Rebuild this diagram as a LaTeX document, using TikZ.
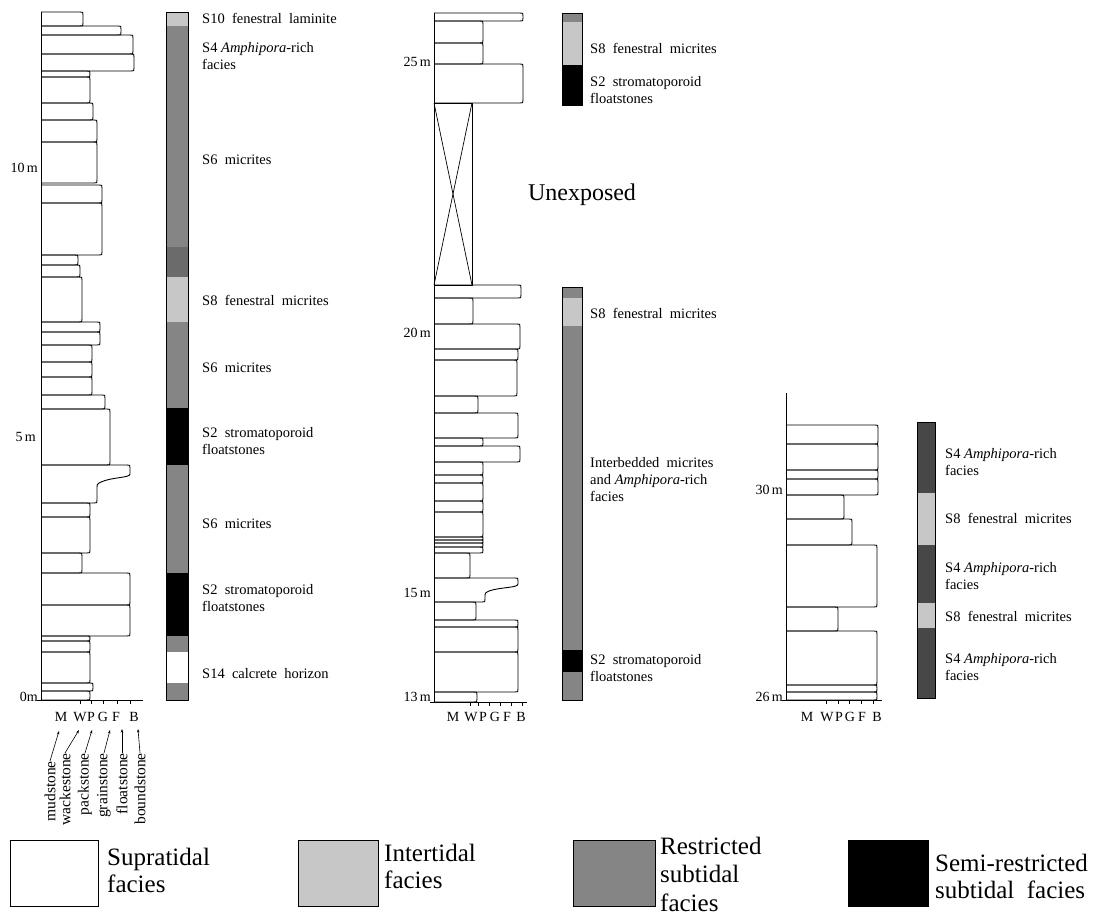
\documentclass[tikz,border=0pt]{standalone}
\usepackage{fontspec}
\setmainfont{Liberation Serif}
\usetikzlibrary{arrows.meta}
\definecolor{interc}{gray}{0.78}
\definecolor{restrc}{gray}{0.52}
\definecolor{restrd}{gray}{0.42}
\definecolor{s4c}{gray}{0.28}
\tikzset{
 bedline/.style={line width=0.9pt, line join=round},
 barbox/.style={draw=black, line width=0.6pt},
 inter/.style={fill=interc},
 restr/.style={fill=restrc},
 restrdark/.style={fill=restrd},
 semi/.style={fill=black},
 supra/.style={fill=white},
 sfour/.style={fill=s4c},
 lab/.style={anchor=west, align=left, inner sep=0pt, font=\fontsize{14.5}{17}\selectfont},
 depth/.style={anchor=east, inner sep=0pt, font=\fontsize{14}{16}\selectfont},
 texlab/.style={anchor=center, inner sep=0pt, font=\fontsize{14}{16}\selectfont},
 rock/.style={anchor=east, rotate=90, inner sep=0pt, font=\fontsize{15.5}{16}\selectfont},
 leg/.style={anchor=west, align=left, inner sep=0pt, font=\fontsize{25}{27}\selectfont},
 leader/.style={line width=0.6pt, -{Stealth[length=3.5pt,width=2.5pt]}},
}
\newcommand\bedshape[4]{%
 \pgfmathsetmacro\bedr{min(3,(#3-#2)/2)}%
 \draw[bedline] (#1,#2) -- ({#4-\bedr},#2) .. controls (#4,#2) .. (#4,{#2+\bedr}) -- (#4,{#3-\bedr}) .. controls (#4,#3) .. ({#4-\bedr},#3) -- (#1,#3);%
}
\begin{document}
\begin{tikzpicture}[x=1pt,y=-1pt]
\useasboundingbox (0,0) rectangle (1098,915);
\fill[white] (0,0) rectangle (1098,915);

% ===== Column 1 =====
\foreach \t/\b/\r in {12/26/83, 26/35/121, 35/54/133, 54/71/134, 71/77/90, 77/103/90,
  103/120/93, 120/142/97, 142/183/97, 185/203/102, 203/255/102, 255/265/78,
  265/277/80, 277/322/82, 322/332/100, 332/345/100, 345/362/92, 362/377/92, 377/395/92,
  395/409/105, 409/465/110, 503/517/90, 517/553/90, 553/573/82, 573/605/130, 605/636/130,
  636/641/90, 641/652/90, 652/683/90, 683/691/93, 691/700/90}
  {\bedshape{41}{\t}{\b}{\r}}
\draw[bedline] (41,465) -- (127,465) .. controls (130,465) .. (130,468) -- (130,474)
  .. controls (130,478) and (112,477) .. (101,482) .. controls (97,484) .. (97,489)
  -- (97,500) .. controls (97,503) .. (94,503) -- (41,503);
\draw[bedline] (41,12) -- (41,700);
\draw[bedline] (37,700) -- (143,700);
\foreach \x in {80,91,103,117,130} \draw[bedline] (\x,700) -- (\x,704);

\node[depth] (d10) at (38,168) {10\,m};
\node[depth] (d5) at (36,437) {5\,m};
\node[depth] (d0) at (38,697) {0m};

\foreach \n/\x/\s in {a/61/M, b/80/W, c/91/P, d/103/G, e/116/F, f/134/B}
  \node[texlab] (t1\n) at (\x,717) {\s};

\node[rock] (rk1) at (50,761) {mudstone};
\node[rock] (rk2) at (65,753) {wackestone};
\node[rock] (rk3) at (85,753) {packstone};
\node[rock] (rk4) at (104,753) {grainstone};
\node[rock] (rk5) at (122,753) {floatstone};
\node[rock] (rk6) at (140,753) {boundstone};
\draw[leader] (rk1.east) -- (59,731);
\draw[leader] (rk2.east) -- (79,730);
\draw[leader] (rk3.east) -- (92,730);
\draw[leader] (rk4.east) -- (110,730);
\draw[leader] (rk5.east) -- (122,729);
\draw[leader] (rk6.east) -- (138,729);

% facies bar 1
\foreach \t/\b/\s in {12/26/inter, 26/247/restr, 247/277/restrdark, 277/322/inter, 322/408/restr,
  408/465/semi, 465/573/restr, 573/636/semi, 636/652/restr, 652/683/supra, 683/700/restr}
  {\path[\s] (166,\t) rectangle (188,\b);}
\draw[barbox] (166,12) rectangle (188,700);

\node[lab] (c1a) at (202,18) {S10\ \ fenestral\ \ laminite};
\node[lab] (c1b) at (202,56) {S4 \textit{Amphipora}-rich\\facies};
\node[lab] (c1c) at (202,160) {S6\ \ micrites};
\node[lab] (c1d) at (202,300) {S8\ \ fenestral\ \ micrites};
\node[lab] (c1e) at (202,368) {S6\ \ micrites};
\node[lab] (c1f) at (202,441) {S2\ \ stromatoporoid\\floatstones};
\node[lab] (c1g) at (202,524) {S6\ \ micrites};
\node[lab] (c1h) at (202,598) {S2\ \ stromatoporoid\\floatstones};
\node[lab] (c1i) at (202,674) {S14\ \ calcrete\ \ horizon};

% ===== Column 2 =====
\foreach \t/\b/\r in {13/21/523, 21/43/483, 43/64/483, 64/103/523, 285/298/521, 298/324/473,
  324/349/520, 349/360/518, 360/396/517, 396/413/478, 413/438/518, 438/446/483, 446/462/520,
  462/475/483, 475/483/483, 483/501/483, 501/512/483, 512/537/483, 537/540/483, 540/543/483,
  543/547/483, 547/553/483, 553/578/470, 602/620/476, 620/627/518, 627/652/518, 652/692/518,
  692/702/477}
  {\bedshape{434}{\t}{\b}{\r}}
\draw[bedline] (434,578) -- (515,578) .. controls (518,578) .. (518,581) -- (518,584)
  .. controls (518,588) and (500,587) .. (489,591) .. controls (485,593) .. (485,597)
  -- (485,599) .. controls (485,602) .. (482,602) -- (434,602);
\draw[bedline] (434,103) rectangle (472,285);
\draw[line width=0.7pt] (434,103) -- (472,285);
\draw[line width=0.7pt] (472,103) -- (434,285);
\draw[bedline] (434,13) -- (434,702);
\draw[bedline] (430,702) -- (527,702);
\foreach \x in {470,478,489,500,511,522} \draw[bedline] (\x,702) -- (\x,706);

\node[depth] (d25) at (431,62) {25\,m};
\node[depth] (d20) at (431,333) {20\,m};
\node[depth] (d15) at (431,593) {15\,m};
\node[depth] (d13) at (431,697) {13\,m};

\foreach \n/\x/\s in {a/453/M, b/471/W, c/483/P, d/495/G, e/507/F, f/521/B}
  \node[texlab] (t2\n) at (\x,717) {\s};

\node[anchor=center, inner sep=0pt, font=\fontsize{24}{28}\selectfont] (unexp) at (582,195) {Unexposed};

\foreach \t/\b/\s in {13/22/restr, 22/65/inter, 65/105/semi}
  {\path[\s] (562,\t) rectangle (582,\b);}
\draw[barbox] (562,13) rectangle (582,105);
\foreach \t/\b/\s in {287/298/restr, 298/326/inter, 326/650/restr, 650/672/semi, 672/700/restr}
  {\path[\s] (562,\t) rectangle (582,\b);}
\draw[barbox] (562,287) rectangle (582,700);

\node[lab] (c2a) at (590,48) {S8\ \ fenestral\ \ micrites};
\node[lab] (c2b) at (590,90) {S2\ \ stromatoporoid\\floatstones};
\node[lab] (c2c) at (590,313) {S8\ \ fenestral\ \ micrites};
\node[lab] (c2d) at (590,480) {Interbedded\ \ micrites\\and \textit{Amphipora}-rich\\facies};
\node[lab] (c2e) at (590,668) {S2\ \ stromatoporoid\\floatstones};

% ===== Column 3 =====
\foreach \t/\b/\r in {425/444/878, 444/470/878, 470/479/878, 479/495/878, 495/519/844,
  519/545/852, 545/607/877, 607/631/838, 631/685/877, 685/692/877, 692/700/877}
  {\bedshape{786}{\t}{\b}{\r}}
\draw[bedline] (786,393) -- (786,700);
\draw[bedline] (782,700) -- (882,700);
\foreach \x in {826,838,849,861,873} \draw[bedline] (\x,700) -- (\x,704);

\node[depth] (d30) at (783,490) {30\,m};
\node[depth] (d26) at (783,697) {26\,m};

\foreach \n/\x/\s in {a/807/M, b/827/W, c/839/P, d/850/G, e/862/F, f/877/B}
  \node[texlab] (t3\n) at (\x,717) {\s};

\foreach \t/\b/\s in {422/493/sfour, 493/545/inter, 545/603/sfour, 603/628/inter, 628/698/sfour}
  {\path[\s] (917,\t) rectangle (935,\b);}
\draw[barbox] (917,422) rectangle (935,698);

\node[lab] (c3a) at (945,462) {S4 \textit{Amphipora}-rich\\facies};
\node[lab] (c3b) at (945,518) {S8\ \ fenestral\ \ micrites};
\node[lab] (c3c) at (945,576) {S4 \textit{Amphipora}-rich\\facies};
\node[lab] (c3d) at (945,616) {S8\ \ fenestral\ \ micrites};
\node[lab] (c3e) at (945,667) {S4 \textit{Amphipora}-rich\\facies};

% ===== Legend =====
\draw[barbox, supra] (10,840) rectangle (98,906);
\node[leg] (lg1) at (107,870) {Supratidal\\facies};
\draw[barbox, inter] (298,840) rectangle (378,906);
\node[leg] (lg2) at (384,866) {Intertidal\\facies};
\draw[barbox, restr] (573,840) rectangle (655,906);
\node[leg, font=\fontsize{25}{28.5}\selectfont] (lg3) at (660,874) {Restricted\\subtidal\\facies};
\draw[barbox, semi] (848,840) rectangle (928,906);
\node[leg] (lg4) at (935,876) {Semi-restricted\\subtidal\ \ facies};
\end{tikzpicture}
\end{document}
